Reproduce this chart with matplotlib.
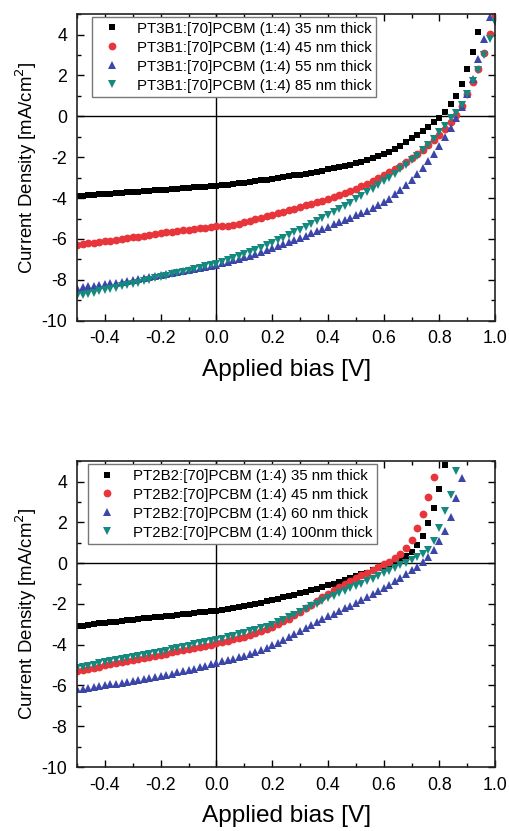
## J-V curves for PT3B1 and PT2B2 blends with [70]PCBM

import matplotlib
matplotlib.use('Agg')
import matplotlib.pyplot as plt
import numpy as np
from matplotlib.ticker import MultipleLocator

plt.rcParams['font.family'] = ['Liberation Sans', 'DejaVu Sans']

########################################################################################################################

# Applied bias sweep (V), -0.5 to 1.0 in 0.02 V steps
bias = np.round(np.arange(-0.5, 1.0001, 0.02), 2)

# Top panel: PT3B1:[70]PCBM (1:4), current density (mA/cm2)
top_labels = ['PT3B1:[70]PCBM (1:4) 35 nm thick',
              'PT3B1:[70]PCBM (1:4) 45 nm thick',
              'PT3B1:[70]PCBM (1:4) 55 nm thick',
              'PT3B1:[70]PCBM (1:4) 85 nm thick']

top_35nm = [-3.90, -3.88, -3.86, -3.84, -3.82, -3.80, -3.78, -3.76, -3.74, -3.72,
            -3.70, -3.68, -3.66, -3.64, -3.62, -3.60, -3.58, -3.56, -3.54, -3.52,
            -3.50, -3.48, -3.46, -3.44, -3.42, -3.40, -3.37, -3.34, -3.31, -3.28,
            -3.25, -3.21, -3.17, -3.13, -3.09, -3.05, -3.01, -2.97, -2.93, -2.89,
            -2.85, -2.80, -2.75, -2.70, -2.65, -2.60, -2.54, -2.48, -2.42, -2.36,
            -2.30, -2.22, -2.14, -2.05, -1.95, -1.85, -1.72, -1.58, -1.43, -1.27,
            -1.08, -0.90, -0.70, -0.50, -0.28, -0.08, 0.20, 0.58, 1.00, 1.60,
            2.30, 3.15, 4.15, 5.30]

top_45nm = [-6.28, -6.25, -6.22, -6.19, -6.15, -6.12, -6.08, -6.04, -6.00, -5.96,
            -5.92, -5.88, -5.84, -5.80, -5.75, -5.71, -5.68, -5.65, -5.62, -5.58,
            -5.55, -5.52, -5.48, -5.45, -5.41, -5.38, -5.36, -5.34, -5.32, -5.25,
            -5.16, -5.10, -5.03, -4.96, -4.89, -4.81, -4.74, -4.67, -4.59, -4.52,
            -4.44, -4.36, -4.28, -4.20, -4.12, -4.03, -3.94, -3.84, -3.74, -3.64,
            -3.54, -3.43, -3.31, -3.18, -3.03, -2.88, -2.74, -2.58, -2.42, -2.24,
            -2.05, -1.85, -1.64, -1.42, -1.18, -0.90, -0.60, -0.28, 0.08, 0.52,
            1.08, 1.70, 2.32, 3.10, 4.02, 4.95]

top_55nm = [-8.38, -8.35, -8.32, -8.29, -8.25, -8.21, -8.17, -8.13, -8.09, -8.05,
            -8.00, -7.95, -7.90, -7.85, -7.80, -7.75, -7.70, -7.65, -7.60, -7.55,
            -7.50, -7.45, -7.40, -7.35, -7.30, -7.25, -7.19, -7.12, -7.05, -6.98,
            -6.90, -6.82, -6.73, -6.64, -6.55, -6.45, -6.35, -6.25, -6.15, -6.05,
            -5.95, -5.84, -5.73, -5.62, -5.51, -5.40, -5.29, -5.18, -5.07, -4.96,
            -4.85, -4.73, -4.61, -4.48, -4.34, -4.20, -4.02, -3.82, -3.60, -3.36,
            -3.10, -2.82, -2.52, -2.20, -1.85, -1.45, -1.02, -0.58, -0.10, 0.45,
            1.10, 1.85, 2.80, 3.80, 4.85]

top_85nm = [-8.80, -8.74, -8.68, -8.62, -8.56, -8.50, -8.44, -8.38, -8.32, -8.26,
            -8.20, -8.13, -8.06, -7.99, -7.92, -7.85, -7.79, -7.73, -7.67, -7.61,
            -7.55, -7.48, -7.41, -7.34, -7.27, -7.20, -7.12, -7.03, -6.94, -6.85,
            -6.75, -6.65, -6.54, -6.42, -6.30, -6.18, -6.06, -5.94, -5.81, -5.68,
            -5.55, -5.41, -5.27, -5.13, -4.99, -4.85, -4.70, -4.55, -4.39, -4.23,
            -4.06, -3.89, -3.72, -3.54, -3.36, -3.18, -3.00, -2.80, -2.60, -2.38,
            -2.15, -1.92, -1.67, -1.40, -1.10, -0.78, -0.45, -0.10, 0.15, 0.55,
            1.10, 1.72, 2.29, 3.02, 3.79, 4.60]

# Bottom panel: PT2B2:[70]PCBM (1:4)
bot_labels = ['PT2B2:[70]PCBM (1:4) 35 nm thick',
              'PT2B2:[70]PCBM (1:4) 45 nm thick',
              'PT2B2:[70]PCBM (1:4) 60 nm thick',
              'PT2B2:[70]PCBM (1:4) 100nm thick']

bot_35nm = [-3.09, -3.06, -3.03, -3.00, -2.96, -2.93, -2.90, -2.87, -2.84, -2.80,
            -2.77, -2.74, -2.71, -2.68, -2.66, -2.63, -2.60, -2.57, -2.54, -2.51,
            -2.48, -2.45, -2.42, -2.40, -2.37, -2.34, -2.30, -2.26, -2.21, -2.17,
            -2.12, -2.06, -2.00, -1.94, -1.88, -1.82, -1.75, -1.68, -1.61, -1.54,
            -1.47, -1.40, -1.32, -1.25, -1.17, -1.09, -1.00, -0.91, -0.82, -0.73,
            -0.64, -0.55, -0.46, -0.36, -0.26, -0.15, -0.05, 0.07, 0.20, 0.36,
            0.55, 0.90, 1.35, 1.95, 2.70, 3.65, 4.82]

bot_45nm = [-5.28, -5.23, -5.18, -5.13, -5.08, -5.02, -4.97, -4.92, -4.87, -4.81,
            -4.76, -4.71, -4.66, -4.60, -4.55, -4.50, -4.44, -4.38, -4.32, -4.26,
            -4.20, -4.15, -4.10, -4.05, -4.00, -3.94, -3.88, -3.81, -3.74, -3.67,
            -3.60, -3.51, -3.42, -3.32, -3.22, -3.12, -2.99, -2.86, -2.72, -2.56,
            -2.40, -2.22, -2.04, -1.86, -1.68, -1.50, -1.34, -1.18, -1.03, -0.88,
            -0.72, -0.58, -0.46, -0.33, -0.19, -0.05, 0.08, 0.25, 0.45, 0.75,
            1.15, 1.72, 2.40, 3.25, 4.24, 5.40]

bot_60nm = [-6.19, -6.15, -6.11, -6.07, -6.03, -5.99, -5.95, -5.91, -5.87, -5.83,
            -5.79, -5.74, -5.69, -5.64, -5.59, -5.54, -5.48, -5.42, -5.36, -5.30,
            -5.24, -5.17, -5.10, -5.03, -4.96, -4.89, -4.82, -4.75, -4.68, -4.61,
            -4.54, -4.45, -4.36, -4.26, -4.15, -4.03, -3.90, -3.77, -3.63, -3.49,
            -3.35, -3.20, -3.05, -2.90, -2.75, -2.60, -2.48, -2.35, -2.22, -2.09,
            -1.96, -1.82, -1.68, -1.53, -1.38, -1.23, -1.06, -0.89, -0.71, -0.53,
            -0.35, -0.17, 0.05, 0.30, 0.65, 1.10, 1.60, 2.28, 3.18, 4.20, 5.40]

bot_100nm = [-5.16, -5.10, -5.04, -4.98, -4.92, -4.86, -4.81, -4.76, -4.70, -4.65,
             -4.60, -4.55, -4.50, -4.45, -4.40, -4.35, -4.29, -4.23, -4.17, -4.11,
             -4.05, -3.99, -3.93, -3.87, -3.81, -3.76, -3.70, -3.63, -3.56, -3.49,
             -3.42, -3.35, -3.27, -3.19, -3.11, -3.03, -2.91, -2.79, -2.66, -2.53,
             -2.40, -2.26, -2.12, -1.98, -1.84, -1.72, -1.60, -1.48, -1.36, -1.24,
             -1.12, -1.00, -0.88, -0.76, -0.63, -0.50, -0.37, -0.24, -0.11, 0.02,
             0.15, 0.30, 0.45, 0.65, 1.10, 1.73, 2.54, 3.36, 4.53, 5.80]

########################################################################################################################

# Marker styles for the 4 thicknesses (same order in both panels)
markers = ['s', 'o', '^', 'v']
colors = ['#000000', '#e8343b', '#3b46a8', '#16897f']
sizes = [5.0, 5.6, 5.8, 5.8]


def draw_panel(ax, series, labels, legend_x):
    for j in range(4):
        y = series[j]
        ax.plot(bias[:len(y)], y, linestyle='none', marker=markers[j], color=colors[j],
                markersize=sizes[j], markeredgewidth=0, label=labels[j], clip_on=True)

    ax.axhline(0, color='black', lw=1.0, zorder=1)   # Horizontal line
    ax.axvline(0, color='black', lw=1.0, zorder=1)   # Vertical line

    ax.set_xlim(-0.5, 1.0)
    ax.set_ylim(-10, 5)
    ax.xaxis.set_minor_locator(MultipleLocator(0.1))
    ax.yaxis.set_minor_locator(MultipleLocator(1))
    ax.set_xticks([-0.4, -0.2, 0.0, 0.2, 0.4, 0.6, 0.8, 1.0])
    ax.set_xticklabels(['-0.4', '-0.2', '0.0', '0.2', '0.4', '0.6', '0.8', '1.0'])
    ax.set_yticks([-10, -8, -6, -4, -2, 0, 2, 4])
    ax.set_yticklabels(['-10', '-8', '-6', '-4', '-2', '0', '2', '4'])

    ax.tick_params(which='both', direction='in', top=True, right=True, labelsize=12.8, pad=7)
    ax.tick_params(which='major', length=5, width=1)
    ax.tick_params(which='minor', length=3, width=1)
    for s in ax.spines.values():
        s.set_linewidth(1.2)
        s.set_color('#222222')

    ax.set_xlabel('Applied bias [V]', fontsize=17.6, labelpad=8)
    ax.set_ylabel('Current Density [mA/cm$^2$]', fontsize=13.4, labelpad=2)

    leg = ax.legend(loc='upper left', bbox_to_anchor=(legend_x, 0.99), fontsize=10.8,
                    frameon=True, fancybox=False, framealpha=1, edgecolor='#777777',
                    numpoints=1, handlelength=2.0, handletextpad=0.7, labelspacing=0.33,
                    borderpad=0.3, borderaxespad=0)
    leg.get_frame().set_linewidth(1.0)


fig = plt.figure(figsize=(5.10, 8.31), dpi=100)

ax1 = fig.add_axes([0.151, 0.614, 0.820, 0.369])
draw_panel(ax1, [top_35nm, top_45nm, top_55nm, top_85nm], top_labels, 0.036)

ax2 = fig.add_axes([0.151, 0.077, 0.820, 0.368])
draw_panel(ax2, [bot_35nm, bot_45nm, bot_60nm, bot_100nm], bot_labels, 0.026)

fig.savefig('out.png', dpi=100)
